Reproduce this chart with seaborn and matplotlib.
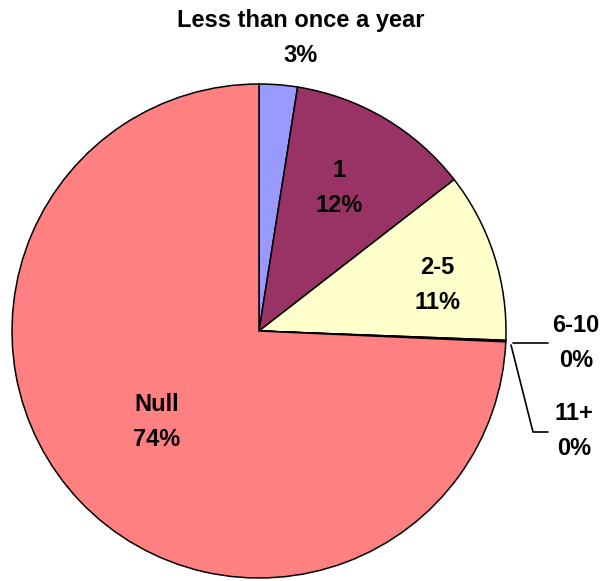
import matplotlib
matplotlib.use("Agg")
import matplotlib.pyplot as plt
import seaborn as sns

categories = ["Less than once a year", "1", "2-5", "6-10", "11+", "Null"]
values = [2.5, 12.0, 11.1, 0.05, 0.05, 74.3]
pct_labels = ["3%", "12%", "11%", "0%", "0%", "74%"]
colors = ["#9999FF", "#993366", "#FFFFCC", "#FFFFCC", "#FFFFCC", "#FF8080"]

# label centres in pixel coords (x, y from top)
label_pos = [(301, 38), (339, 188), (437, 285), (576, 343), (574, 431), (157, 422)]

sns.set_theme(style="white")
plt.rcParams["font.family"] = ["Liberation Sans", "DejaVu Sans"]

W, H = 603, 581
fig = plt.figure(figsize=(W / 100, H / 100), dpi=100)
ax = fig.add_axes([0, 0, 1, 1])

cx, cy, r = 259, H - 331, 247
ax.pie(values, colors=colors, startangle=90, counterclock=False,
       center=(cx, cy), radius=r, frame=True,
       wedgeprops=dict(edgecolor="black", linewidth=1.1))
ax.set_xlim(0, W)
ax.set_ylim(0, H)
ax.set_aspect("equal")
ax.axis("off")

for cat, pct, (x, y) in zip(categories, pct_labels, label_pos):
    ax.text(x, H - y, f"{cat}\n{pct}", ha="center", va="center",
            fontsize=17, fontweight="bold", linespacing=1.7, color="black")

# leader lines for the tiny slices
ax.plot([513, 548], [H - 343, H - 343], color="black", lw=1.2)
ax.plot([511, 533, 548], [H - 345, H - 432, H - 432], color="black", lw=1.2)

fig.savefig("out.png", dpi=100, facecolor="white")
